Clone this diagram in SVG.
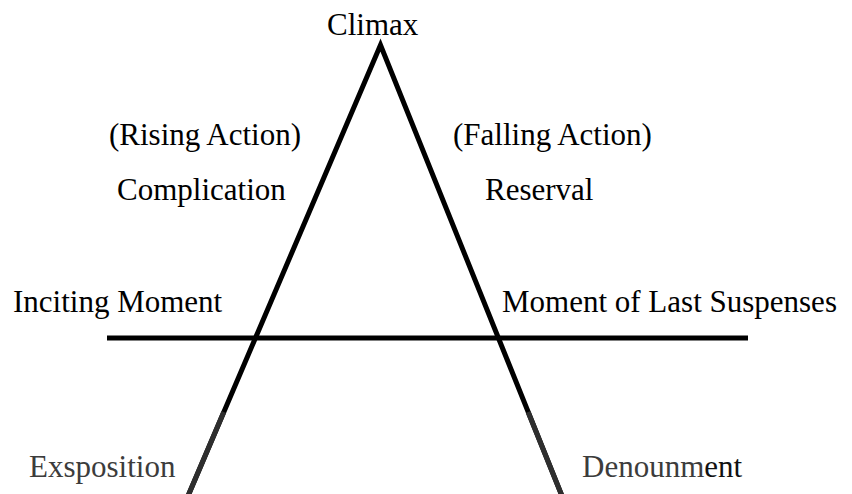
<svg xmlns="http://www.w3.org/2000/svg" width="852" height="494" viewBox="0 0 852 494">
  <style>
    .lbl { font-family: "Liberation Serif", "Times New Roman", serif; font-size: 31px; fill: #000; }
    .faded { fill: #3c3c3c; }
    .edge { stroke: #000; stroke-width: 5; fill: none; stroke-linecap: butt; }
    .edge-low { stroke: #2e2e2e; stroke-width: 5; fill: none; stroke-linecap: butt; }
  </style>
  <rect width="852" height="494" fill="#fff"/>

  <!-- pyramid sides and baseline; lower ends drawn in a softer tone -->
  <g id="connectors">
    <polyline class="edge" points="188,496 380.5,45 562,496" stroke-linejoin="miter" stroke-miterlimit="10"/>
    <line class="edge-low" x1="223.8" y1="412" x2="188" y2="496"/>
    <line class="edge-low" x1="528.1" y1="412" x2="562" y2="496"/>
    <line class="edge" x1="107" y1="338" x2="748" y2="338"/>
  </g>

  <g id="climax"><text class="lbl" x="327" y="35">Climax</text></g>
  <g id="rising-action"><text class="lbl" x="109" y="145">(Rising Action)</text></g>
  <g id="complication"><text class="lbl" x="117" y="200">Complication</text></g>
  <g id="falling-action"><text class="lbl" x="453" y="145">(Falling Action)</text></g>
  <g id="reserval"><text class="lbl" x="485" y="200">Reserval</text></g>
  <g id="inciting-moment"><text class="lbl" x="13" y="312">Inciting Moment</text></g>
  <g id="last-suspense"><text class="lbl" x="502" y="312">Moment of Last Suspenses</text></g>
  <g id="exposition"><text class="lbl faded" x="29" y="477">Exsposition</text></g>
  <g id="denouement"><text class="lbl" x="582" y="477"><tspan class="faded">Denounm</tspan><tspan fill="#111">ent</tspan></text></g>
</svg>
